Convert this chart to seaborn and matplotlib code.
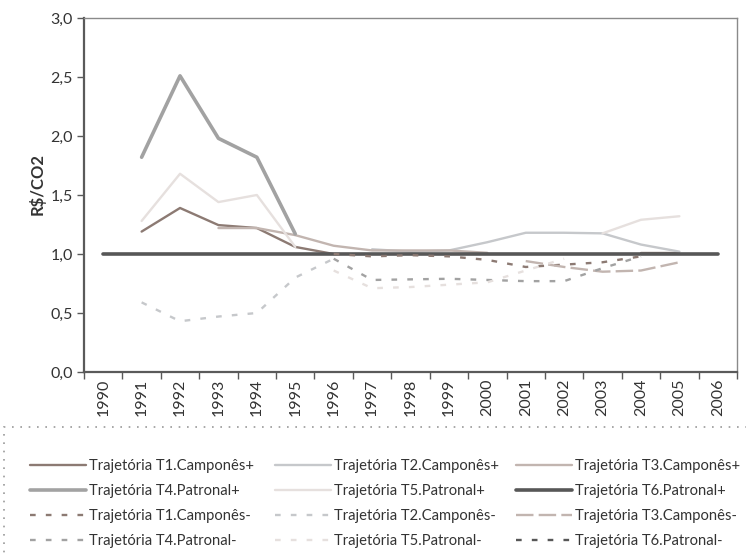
import numpy as np
import matplotlib
matplotlib.use('Agg')
import matplotlib.pyplot as plt
import seaborn as sns
from matplotlib.lines import Line2D
from matplotlib.patches import Rectangle
from matplotlib.ticker import FuncFormatter, FixedLocator

nan = np.nan
anos = list(range(1990, 2007))

# valores (R$/CO2), NaN onde a serie nao aparece
t1_pos = [nan, 1.19, 1.39, 1.245, 1.22, 1.06, 1.00, nan, nan, nan, nan, nan, nan, nan, 1.01, 1.01, nan]
t2_pos = [nan, nan, nan, nan, nan, nan, nan, 1.04, 1.02, 1.03, 1.10, 1.18, 1.18, 1.175, 1.08, 1.02, nan]
t3_pos = [nan, nan, nan, 1.22, 1.22, 1.16, 1.07, 1.03, 1.03, 1.03, 1.01, nan, nan, nan, nan, nan, nan]
t4_pos = [nan, 1.82, 2.51, 1.98, 1.82, 1.17, nan, nan, nan, nan, nan, nan, nan, nan, nan, nan, nan]
t5_pos = [nan, 1.28, 1.68, 1.44, 1.50, 1.06, nan, nan, nan, nan, nan, nan, nan, 1.175, 1.29, 1.32, nan]
t6_pos = [1.0] * 17
t1_neg = [nan, nan, nan, nan, nan, nan, 1.00, 0.98, 0.99, 0.98, 0.95, 0.89, 0.91, 0.93, 0.98, nan, nan]
t2_neg = [nan, 0.59, 0.43, 0.47, 0.50, 0.80, 0.96, nan, nan, nan, nan, nan, nan, nan, nan, nan, nan]
t3_neg = [nan, nan, nan, nan, nan, nan, nan, nan, nan, nan, nan, 0.94, 0.89, 0.85, 0.86, 0.93, nan]
t4_neg = [nan, nan, nan, nan, nan, nan, 0.96, 0.78, 0.785, 0.79, 0.78, 0.77, 0.77, 0.88, 0.98, nan, nan]
t5_neg = [nan, nan, nan, nan, nan, nan, 0.86, 0.71, 0.72, 0.74, 0.76, 0.86, 0.96, nan, nan, nan, nan]
t6_neg = [nan] * 17

rotulos = ['Trajetória T1.Camponês+', 'Trajetória T2.Camponês+', 'Trajetória T3.Camponês+',
           'Trajetória T4.Patronal+', 'Trajetória T5.Patronal+', 'Trajetória T6.Patronal+',
           'Trajetória T1.Camponês-', 'Trajetória T2.Camponês-', 'Trajetória T3.Camponês-',
           'Trajetória T4.Patronal-', 'Trajetória T5.Patronal-', 'Trajetória T6.Patronal-']
series = [t1_pos, t2_pos, t3_pos, t4_pos, t5_pos, t6_pos,
          t1_neg, t2_neg, t3_neg, t4_neg, t5_neg, t6_neg]

cores = ['#8c7a73', '#c6c8cb', '#c2b5b0', '#a2a2a2', '#e6e0de', '#575757']
cores = cores + cores
curto = (0, (2.4, 4.3))
longo = (0, (7.4, 2.2))
estilos = ['-'] * 6 + [curto, curto, longo, curto, curto, curto]
larguras = [1.7, 1.7, 1.7, 2.6, 1.7, 2.6] + [1.7] * 6

sns.set_style('white')
plt.rcParams['font.family'] = ['Lato', 'DejaVu Sans']

fig = plt.figure(figsize=(7.46, 5.54), dpi=100)
ax = fig.add_axes([84 / 746, 1 - 372 / 554, (737 - 84) / 746, (372 - 18) / 554])


def trechos(vals):
    # separa a serie em trechos continuos (sem NaN)
    bloco = []
    for a, v in zip(anos, vals):
        if np.isnan(v):
            if bloco:
                yield bloco
            bloco = []
        else:
            bloco.append((a, v))
    if bloco:
        yield bloco


for vals, cor, ls, lw in zip(series, cores, estilos, larguras):
    for b in trechos(vals):
        xs = [p[0] for p in b]
        ys = [p[1] for p in b]
        sns.lineplot(x=xs, y=ys, color=cor, linestyle=ls, linewidth=lw, ax=ax,
                     estimator=None, legend=False)

ax.set_xlim(1989.5, 2006.5)
ax.set_ylim(0, 3)
ax.set_yticks(np.arange(0, 3.01, 0.5))
ax.yaxis.set_major_formatter(FuncFormatter(lambda v, p: f'{v:.1f}'.replace('.', ',')))
ax.xaxis.set_major_locator(FixedLocator(np.arange(1989.5, 2007, 1)))
ax.xaxis.set_minor_locator(FixedLocator(anos))
ax.set_xticklabels([], minor=False)
ax.set_xticklabels([str(a) for a in anos], minor=True, rotation=90)
ax.tick_params(axis='x', which='major', direction='out', length=5, width=1, color='#595959', bottom=True)
ax.tick_params(axis='x', which='minor', length=0, labelsize=11.5, labelcolor='#333333', pad=5)
ax.tick_params(axis='y', direction='out', length=5, width=1, color='#595959', left=True,
               labelsize=11.5, labelcolor='#333333', pad=3)
ax.set_ylabel('R\\$/CO2', fontsize=12, fontweight='bold', color='#333333')
ax.yaxis.set_label_coords((46 - 84) / 653, (372 - 184) / 354)
ax.set_xlabel('')

for lado in ['left', 'bottom']:
    ax.spines[lado].set_color('#5a5a5a')
    ax.spines[lado].set_linewidth(1.6)
for lado in ['top', 'right']:
    ax.spines[lado].set_color('#8a8a8a')
    ax.spines[lado].set_linewidth(1.0)
ax.grid(False)

# caixa pontilhada da legenda
fig.patches.append(Rectangle((4 / 746, -0.05), 1.1, (554 - 427) / 554 + 0.05, fill=False,
                             edgecolor='#9a9a9a', linewidth=1.2, linestyle=(0, (1, 4)),
                             transform=fig.transFigure, clip_on=False))

handles = [Line2D([], [], color=c, linestyle=s, linewidth=w) for c, s, w in zip(cores, estilos, larguras)]
x_cols = [30, 275, 516]
for j, xc in enumerate(x_cols):
    idx = [j, j + 3, j + 6, j + 9]
    leg = fig.legend([handles[i] for i in idx], [rotulos[i] for i in idx], loc='upper left',
                     bbox_to_anchor=(xc / 746, 1 - 459 / 554), frameon=False, fontsize=10.6,
                     handlelength=3.8, handletextpad=0.2, labelspacing=0.75,
                     borderpad=0, borderaxespad=0, labelcolor='#333333')

fig.savefig('out.png', dpi=100)
